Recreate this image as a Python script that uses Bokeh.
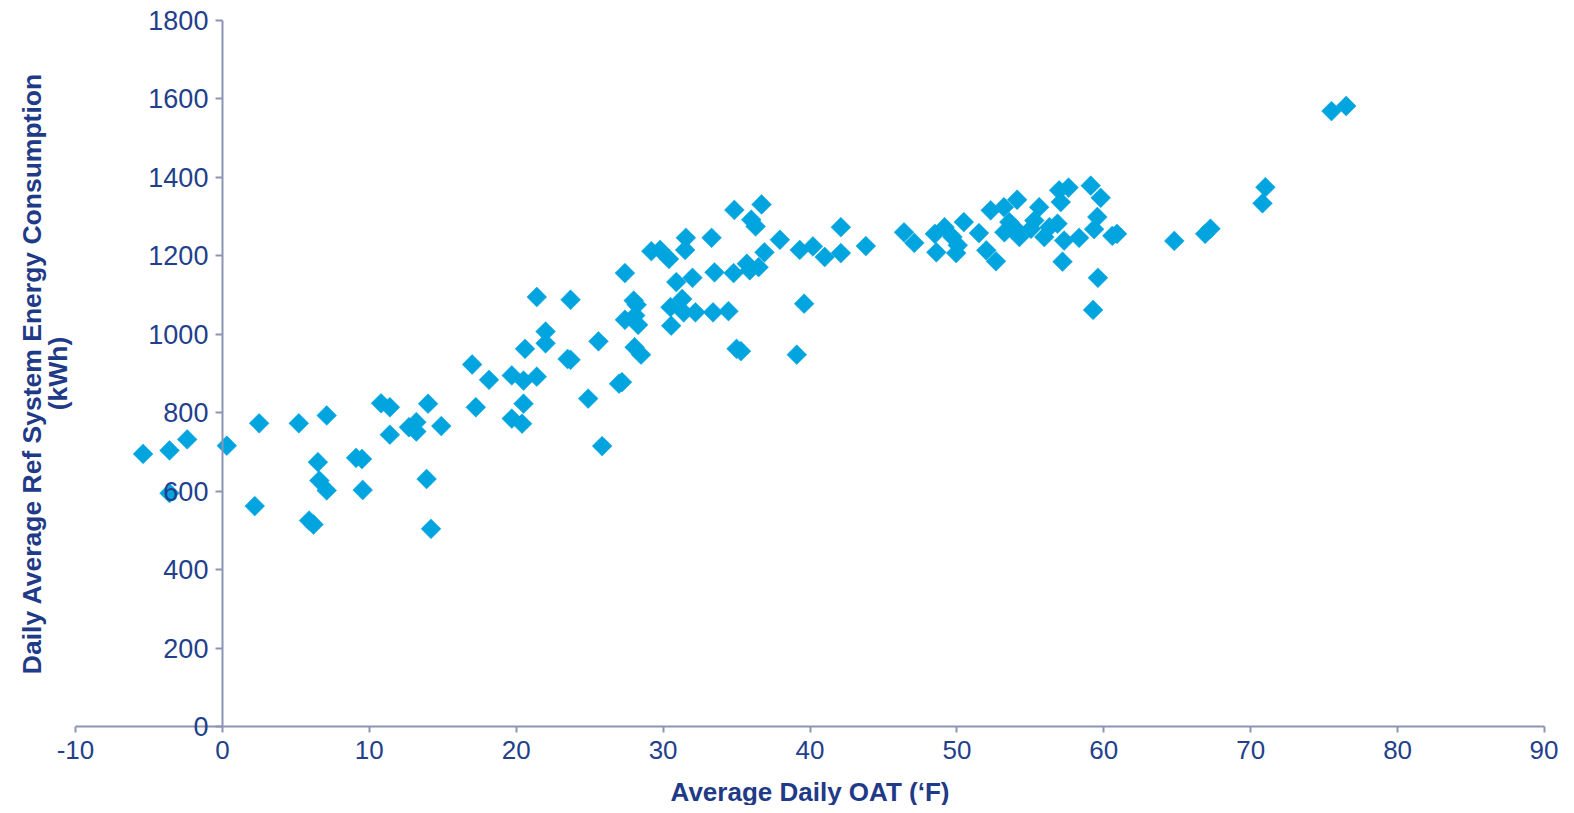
import numpy as np
from bokeh.plotting import figure
from bokeh.models import Range1d, LinearAxis, SingleIntervalTicker, Label
from bokeh.embed import file_html
from bokeh.resources import INLINE

# Average daily OAT (°F)
oat = [
    -5.4, -3.6, -2.4, -3.6, 0.3, 2.5, 2.2, 5.2, 7.1, 6.5, 6.6, 7.1, 5.9, 6.2,
    9.1, 9.5, 9.55, 10.8, 11.4, 11.4, 12.7, 13.2, 13.2, 14.0, 14.9, 13.9, 14.2,
    17.0, 17.25, 18.15, 19.7, 20.5, 21.4, 19.7, 20.4, 20.5, 20.6, 21.4, 22.0,
    22.0, 23.5, 23.7, 23.7, 24.9, 25.6, 25.85, 27.0, 27.2, 27.4, 27.4, 28.0,
    28.1, 28.3, 28.06, 28.5, 28.2,
    29.2, 29.8, 30.4, 31.55, 31.5, 30.9, 32.0, 30.5, 31.3, 31.4, 32.2, 30.55,
    33.4, 34.45, 33.3, 33.5, 34.8, 35.7, 35.9, 36.5, 34.85, 36.7, 36.0, 36.3,
    36.9, 37.95, 35.0, 35.3, 39.6, 39.1, 39.3, 40.2, 41.0, 42.1, 42.1, 43.8,
    46.4, 47.1, 48.5, 49.16, 49.7, 50.06, 48.6, 49.95, 50.47, 51.5, 52.0,
    52.66, 52.3, 53.2, 54.1, 53.23, 53.57, 54.0, 54.25, 55.6, 55.27, 55.04,
    55.95, 56.85, 56.3, 56.96, 57.6, 57.07, 57.3, 58.32, 57.19, 59.11, 59.79,
    59.56, 59.34, 59.6, 59.27, 60.58, 60.9, 64.8, 66.9, 67.26, 70.8, 71.0,
    75.5, 76.5,
]

# Daily average ref system energy consumption (kWh)
kwh = [
    695, 704, 732, 595, 716, 773, 562, 773, 793, 674, 627, 602, 525, 515,
    685, 682, 603, 824, 814, 744, 763, 776, 752, 823, 766, 631, 504,
    923, 814, 884, 895, 882, 892, 785, 772, 823, 963, 1095, 1007,
    977, 937, 935, 1088, 836, 982, 715, 874, 878, 1156, 1037, 1086,
    1048, 1024, 967, 948, 1075,
    1212, 1215, 1192, 1246, 1215, 1133, 1144, 1069, 1090, 1056, 1056, 1022,
    1056, 1059, 1246, 1158, 1156, 1180, 1163, 1171, 1317, 1331, 1292, 1275,
    1209, 1241, 963, 957, 1078, 948, 1215, 1224, 1197, 1207, 1273, 1225,
    1260, 1233, 1256, 1273, 1248, 1227, 1209, 1207, 1286, 1258, 1214,
    1186, 1316, 1324, 1343, 1260, 1286, 1269, 1248, 1324, 1290, 1269,
    1248, 1282, 1273, 1367, 1374, 1337, 1239, 1246, 1185, 1379, 1348,
    1299, 1268, 1144, 1062, 1251, 1256, 1238, 1256, 1269, 1334, 1375,
    1569, 1582,
]

x_min, x_max, x_step = -10, 90, 10
y_min, y_max, y_step = 0, 1800, 200
x_title = "Average Daily OAT (\u2018F)"
y_title_1 = "Daily Average Ref System Energy Consumption"
y_title_2 = "(kWh)"

AXIS_COLOR = "#8d94b3"
LABEL_COLOR = "#233f8c"
TITLE_COLOR = "#1f3a87"
MARKER_COLOR = "#00a4de"

W, H = 1558, 805
p = figure(
    width=W, height=H,
    x_range=Range1d(-15.106, 90.953), y_range=Range1d(-201.4, 1851),
    x_axis_location=None, y_axis_location=None,
    output_backend="svg", toolbar_location=None,
    min_border=0, min_border_left=0, min_border_right=0,
    min_border_top=0, min_border_bottom=0,
)
p.outline_line_color = None
p.background_fill_color = "white"
p.border_fill_color = "white"
for g in p.grid:
    g.visible = False

# x axis crossing at y = 0
xa = LinearAxis(fixed_location=0, bounds=(x_min, x_max),
                ticker=SingleIntervalTicker(interval=x_step))
xa.axis_line_color = AXIS_COLOR
xa.axis_line_width = 2
xa.major_tick_line_color = AXIS_COLOR
xa.major_tick_line_width = 2
xa.major_tick_out = 6
xa.major_tick_in = 0
xa.minor_tick_line_color = None
xa.major_label_text_font = "Liberation Sans"
xa.major_label_text_font_size = "26px"
xa.major_label_text_color = LABEL_COLOR
xa.major_label_standoff = 8
xa.major_label_overrides = {-10: "-10"}
xa.axis_label = x_title
xa.axis_label_text_font = "Liberation Sans"
xa.axis_label_text_font_size = "26px"
xa.axis_label_text_font_style = "bold"
xa.axis_label_text_color = TITLE_COLOR
xa.axis_label_standoff = 15
p.add_layout(xa, "below")

# y axis crossing at x = 0
ya = LinearAxis(fixed_location=0, bounds=(y_min, y_max),
                ticker=SingleIntervalTicker(interval=y_step))
ya.axis_line_color = AXIS_COLOR
ya.axis_line_width = 2
ya.major_tick_line_color = AXIS_COLOR
ya.major_tick_line_width = 2
ya.major_tick_out = 7
ya.major_tick_in = 0
ya.minor_tick_line_color = None
ya.major_label_text_font = "Liberation Sans"
ya.major_label_text_font_size = "27px"
ya.major_label_text_color = LABEL_COLOR
ya.major_label_standoff = 7
p.add_layout(ya, "left")

# y axis title (two rotated lines)
for txt, sx in ((y_title_1, 31), (y_title_2, 57)):
    p.add_layout(Label(x=sx, y=H - 373, x_units="screen", y_units="screen",
                       text=txt, angle=np.pi / 2,
                       text_align="center", text_baseline="middle",
                       text_font="Liberation Sans", text_font_size="26.5px",
                       text_font_style="bold", text_color=TITLE_COLOR))

p.scatter(oat, kwh, marker="square", size=14, angle=np.pi / 4,
          fill_color=MARKER_COLOR, line_color=MARKER_COLOR, line_width=0.5)

open("out.html", "w").write(file_html(p, INLINE))
